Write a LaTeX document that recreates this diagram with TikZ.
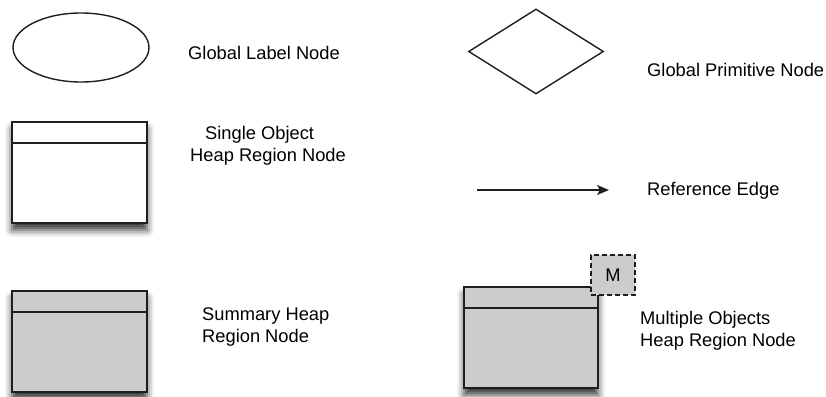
\documentclass[tikz,border=0pt]{standalone}
\usepackage{fontspec}
\setmainfont{Liberation Sans}
\usetikzlibrary{shapes.geometric,arrows.meta,shadows.blur}
\definecolor{boxgray}{RGB}{204,204,204}
\definecolor{linedark}{RGB}{30,30,30}
\tikzset{
  lbl/.style={anchor=base west,inner sep=0pt,align=left,font=\fontsize{18.3}{22}\selectfont},
  heapbox/.style={draw=linedark,line width=1.8pt,minimum width=135pt,minimum height=101pt,inner sep=0pt,
    blur shadow={shadow xshift=0pt,shadow yshift=-7pt,shadow blur radius=7pt,shadow opacity=80}},
  headline/.style={draw=linedark,line width=1.8pt},
  grayfill/.style={fill=boxgray},
  refarrow/.style={draw=linedark,line width=1.5pt,-{Stealth[length=12pt,width=10pt,inset=3pt]}},
  mbox/.style={draw=linedark,fill=boxgray,dashed,dash pattern=on 5pt off 3pt,line width=1.5pt,
    minimum width=44pt,minimum height=40pt,inner sep=0pt,font=\fontsize{18.3}{22}\selectfont}
}
\begin{document}
\begin{tikzpicture}[x=1pt,y=-1pt]
\useasboundingbox (0,0) rectangle (826,396);
% Global label node
\node[draw=linedark,line width=1.4pt,ellipse,minimum width=136pt,minimum height=69pt,inner sep=0pt] (ell) at (81,47.5) {};
\node[lbl] (tell) at (188,59.5) {Global Label Node};
% Global primitive node
\node[draw=linedark,line width=1.4pt,diamond,aspect=1.59,minimum width=135pt,minimum height=85pt,inner sep=0pt] (dia) at (536,51.5) {};
\node[lbl] (tdia) at (647,76.5) {Global Primitive Node};
% Single object heap region node
\node[heapbox,fill=white] (single) at (79.5,172.5) {};
\draw[headline] ([yshift=-22pt]single.north west) -- ([yshift=-22pt]single.north east);
\node[lbl] (tsingle) at (205,161.5) {Single Object\\[0pt]\hspace*{-15pt}Heap Region Node};
% Reference edge
\coordinate (ra) at (477,190);
\coordinate (rb) at (609,190);
\draw[refarrow] (ra) -- (rb);
\node[lbl] (tref) at (647,195.5) {Reference Edge};
% Summary heap region node
\node[heapbox,grayfill] (summary) at (79.5,341.5) {};
\draw[headline] ([yshift=-22pt]summary.north west) -- ([yshift=-22pt]summary.north east);
\node[lbl] (tsummary) at (202,342.5) {Summary Heap\\Region Node};
% Multiple objects heap region node
\node[heapbox,grayfill,minimum width=134pt] (multi) at (531,337.5) {};
\draw[headline] ([yshift=-22pt]multi.north west) -- ([yshift=-22pt]multi.north east);
\node[mbox] (m) at (613,275) {M};
\node[lbl] (tmulti) at (640,346.5) {Multiple Objects\\Heap Region Node};
\end{tikzpicture}
\end{document}
